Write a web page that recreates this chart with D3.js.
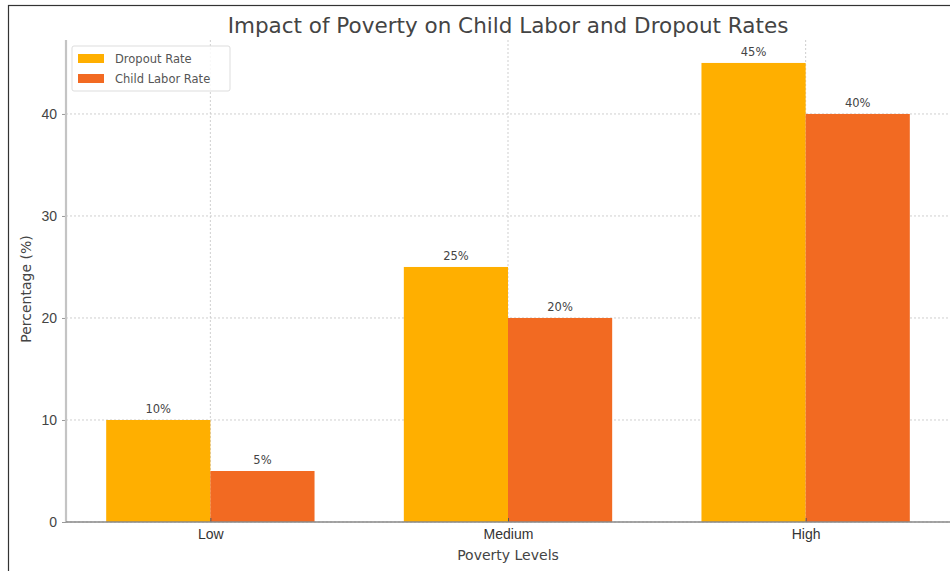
<!DOCTYPE html>
<html>
<head>
<meta charset="utf-8">
<script src="https://cdn.jsdelivr.net/npm/d3@7"></script>
<style>
  html, body { margin: 0; padding: 0; background: #fff; }
  svg { display: block; font-family: "DejaVu Sans", "Noto Sans", sans-serif; }
</style>
</head>
<body>
<svg id="chart" width="950" height="571"></svg>
<script>
// Poverty levels and the two measured rates (%)
const categories = ["Low", "Medium", "High"];
const seriesNames = ["Dropout Rate", "Child Labor Rate"];
const dropoutRate = [10, 25, 45];
const childLaborRate = [5, 20, 40];
const yTicks = [0, 10, 20, 30, 40];
const colors = ["#FFAF00", "#F26A22"];

const svg = d3.select("#chart");
const W = 950, H = 571;

// outer frame
svg.append("rect").attr("x", 8.5).attr("y", 5.5).attr("width", W + 10).attr("height", H + 10)
  .attr("fill", "#fff").attr("stroke", "#333").attr("stroke-width", 1.2);

const plot = { left: 66, right: 950, top: 40, bottom: 522 };

// linear x in category-index units, matching grouped bar layout
const barW = 0.35;
const x = d3.scaleLinear().domain([-0.485, 2.485]).range([plot.left, plot.right]);
const y = d3.scaleLinear().domain([0, 47.25]).range([plot.bottom, plot.top]);

const g = svg.append("g");

// grid lines (dotted)
g.append("g").selectAll("line").data(yTicks).join("line")
  .attr("x1", plot.left).attr("x2", plot.right)
  .attr("y1", d => y(d)).attr("y2", d => y(d))
  .attr("stroke", "#cfcfcf").attr("stroke-width", 1).attr("stroke-dasharray", "2,2");
g.append("g").selectAll("line").data(categories).join("line")
  .attr("x1", (d, i) => x(i)).attr("x2", (d, i) => x(i))
  .attr("y1", plot.top).attr("y2", plot.bottom)
  .attr("stroke", "#cfcfcf").attr("stroke-width", 1).attr("stroke-dasharray", "2,2");

// bars
const series = [dropoutRate, childLaborRate];
series.forEach((vals, s) => {
  const offset = s === 0 ? -barW / 2 : barW / 2;
  g.append("g").selectAll("rect").data(vals).join("rect")
    .attr("x", (d, i) => x(i + offset - barW / 2))
    .attr("width", (d, i) => x(i + offset + barW / 2) - x(i + offset - barW / 2))
    .attr("y", d => y(d))
    .attr("height", d => y(0) - y(d))
    .attr("fill", colors[s]);
  g.append("g").selectAll("text").data(vals).join("text")
    .attr("x", (d, i) => x(i + offset))
    .attr("y", d => y(d) - 7)
    .attr("text-anchor", "middle")
    .attr("font-size", 11.5)
    .attr("fill", "#444")
    .text(d => d + "%");
});

// axes
const yAxis = d3.axisLeft(y).tickValues(yTicks).tickSize(4).tickPadding(5);
const ya = svg.append("g").attr("transform", `translate(${plot.left},0)`).call(yAxis);
ya.select(".domain").remove();
ya.selectAll(".tick line").attr("stroke", "#999");
ya.selectAll(".tick text").attr("font-size", 14).attr("fill", "#444");
svg.append("line").attr("x1", plot.left).attr("x2", plot.left)
  .attr("y1", plot.top).attr("y2", plot.bottom)
  .attr("stroke", "#c4c4c4").attr("stroke-width", 2.2);

const xa = svg.append("g").attr("transform", `translate(0,${plot.bottom})`)
  .call(d3.axisBottom(x).tickValues([0, 1, 2]).tickFormat(i => categories[i]).tickSize(4).tickPadding(3));
xa.select(".domain").remove();
xa.selectAll(".tick line").attr("stroke", "#555").attr("transform", "translate(0,-4)");
xa.selectAll(".tick text").attr("font-size", 14).attr("fill", "#333").attr("dy", "0.71em");
svg.append("line").attr("x1", plot.left).attr("x2", plot.right)
  .attr("y1", plot.bottom).attr("y2", plot.bottom)
  .attr("stroke", "#888").attr("stroke-width", 1.6);

// axis titles
svg.append("text").attr("x", x(1)).attr("y", 560).attr("text-anchor", "middle")
  .attr("font-size", 14).attr("fill", "#444").text("Poverty Levels");
svg.append("text").attr("transform", `translate(31,${(plot.top + plot.bottom) / 2 + 8}) rotate(-90)`)
  .attr("text-anchor", "middle").attr("font-size", 14).attr("fill", "#444").text("Percentage (%)");

// title
svg.append("text").attr("x", x(1)).attr("y", 33).attr("text-anchor", "middle")
  .attr("font-size", 21.5).attr("fill", "#444").text("Impact of Poverty on Child Labor and Dropout Rates");

// legend
const lg = svg.append("g").attr("transform", "translate(72,46)");
lg.append("rect").attr("width", 158).attr("height", 45).attr("rx", 2)
  .attr("fill", "#fff").attr("fill-opacity", 0.85).attr("stroke", "#ddd");
seriesNames.forEach((name, i) => {
  lg.append("rect").attr("x", 6).attr("y", 8 + i * 20).attr("width", 26).attr("height", 9).attr("fill", colors[i]);
  lg.append("text").attr("x", 43).attr("y", 17 + i * 20).attr("font-size", 11.5).attr("fill", "#555").text(name);
});
</script>
</body>
</html>
